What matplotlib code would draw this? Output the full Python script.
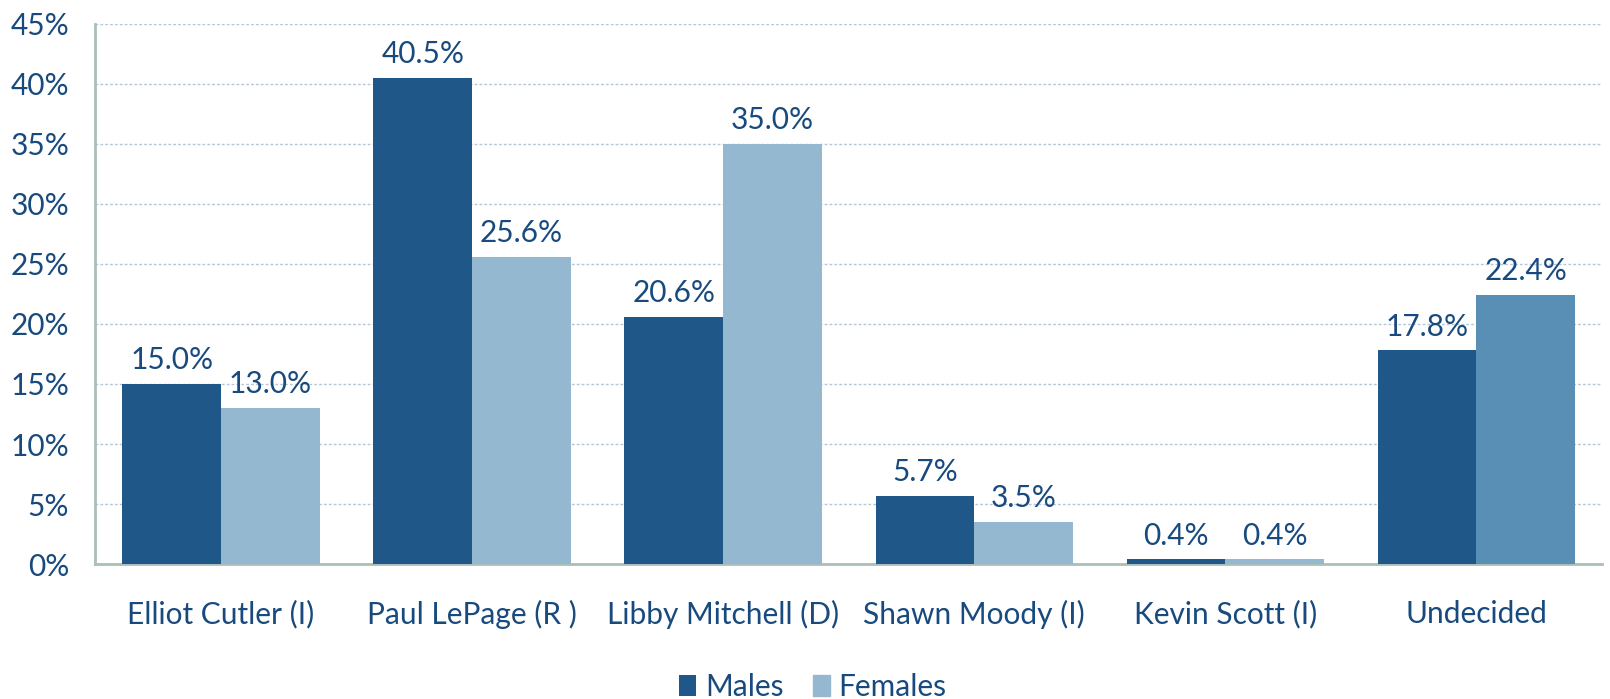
import matplotlib
matplotlib.use("Agg")
import matplotlib.pyplot as plt
import numpy as np

categories = ["Elliot Cutler (I)", "Paul LePage (R )", "Libby Mitchell (D)",
              "Shawn Moody (I)", "Kevin Scott (I)", "Undecided"]
males = [15.0, 40.5, 20.6, 5.7, 0.4, 17.8]
females = [13.0, 25.6, 35.0, 3.5, 0.4, 22.4]
yticks = [0, 5, 10, 15, 20, 25, 30, 35, 40, 45]

c_male = "#1F5788"
c_female = "#95B8D1"
c_female_undec = "#5A8FB5"
txt = "#184A7E"
font = "Lato"
fs = 21.5

fig = plt.figure(figsize=(16.10, 6.99), dpi=100)
ax = fig.add_axes([0.0593, 0.193, 0.9357, 0.773])

x = np.arange(len(categories))
w = 0.393
fcolors = [c_female] * (len(categories) - 1) + [c_female_undec]
bm = ax.bar(x - w / 2, males, w, color=c_male, label="Males", zorder=3)
bf = ax.bar(x + w / 2, females, w, color=fcolors, label="Females", zorder=3)

for bars, vals in ((bm, males), (bf, females)):
    for b, v in zip(bars, vals):
        ax.annotate(f"{v:.1f}%", (b.get_x() + b.get_width() / 2, v),
                    xytext=(0, 7), textcoords="offset points",
                    ha="center", va="bottom", fontsize=fs, color=txt, family=font)

ax.set_xlim(-0.5, len(categories) - 0.5)
ax.set_ylim(0, 45)
ax.set_yticks(yticks)
ax.set_yticklabels([f"{t}%" for t in yticks], fontsize=fs, color=txt, family=font)
ax.set_xticks(x)
ax.set_xticklabels(categories, fontsize=fs, color=txt, family=font)
ax.tick_params(axis="both", length=0)
ax.tick_params(axis="x", pad=26)
ax.tick_params(axis="y", pad=19)

ax.yaxis.grid(True, linestyle=(0, (2, 1.5)), color="#B4C6D8", linewidth=1.0, zorder=0)
for s in ("top", "right"):
    ax.spines[s].set_visible(False)
for s in ("left", "bottom"):
    ax.spines[s].set_color("#A9C0B8")
    ax.spines[s].set_linewidth(2)

leg = fig.legend(handles=[bm, bf], labels=["Males", "Females"], loc="center",
                 bbox_to_anchor=(0.505, 0.017), ncol=2, frameon=False,
                 prop={"family": font, "size": fs}, handlelength=0.55, handleheight=0.7,
                 handletextpad=0.3, columnspacing=1.0, borderpad=0)
leg.legend_handles[1].set_color(c_female)
for t in leg.get_texts():
    t.set_color(txt)

fig.savefig("out.png", dpi=100)
